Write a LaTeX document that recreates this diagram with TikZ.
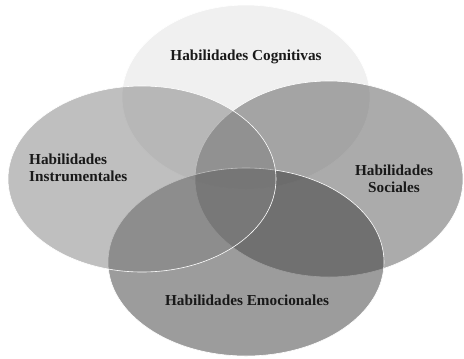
\documentclass[tikz,border=0pt]{standalone}
\usepackage{fontspec}
\setmainfont{Liberation Serif}
\usetikzlibrary{
  shapes.geometric,  % ellipse shape for the sets
  positioning
}
\tikzset{
  x=1bp, y=-1bp,
  set/.style = {
    ellipse,
    draw=white,
    line width=0.6bp,
    inner sep=0pt,
    outer sep=0pt
  },
  cog/.style = {set, fill=black!6},
  soc/.style = {set, fill=black!65, fill opacity=0.5},
  emo/.style = {set, fill=black!82, fill opacity=0.47},
  ins/.style = {set, fill=black!50, fill opacity=0.5},
  label/.style = {
    font=\bfseries\fontsize{15.3}{17}\selectfont,
    text=black!90,
    inner sep=0pt
  }
}

\begin{document}
\begin{tikzpicture}
\useasboundingbox[fill=white] (0,0) rectangle (464,358);

% the four sets
\node[cog, minimum width=248bp, minimum height=184bp] (cognitivas) at (246,97) {};
\node[soc, minimum width=268bp, minimum height=196bp] (sociales) at (329,179) {};
\node[emo, minimum width=276bp, minimum height=188bp] (emocionales) at (246,262) {};
\node[ins, minimum width=268bp, minimum height=186bp] (instrumentales) at (142,179) {};

% texts
\node[label] (t-cog) at (246,57) {Habilidades Cognitivas};
\node[label, align=left, anchor=west] (t-ins) at (29,168) {Habilidades\\Instrumentales};
\node[label, align=center] (t-soc) at (394,179) {Habilidades\\Sociales};
\node[label] (t-emo) at (247,300) {Habilidades Emocionales};
\end{tikzpicture}
\end{document}
